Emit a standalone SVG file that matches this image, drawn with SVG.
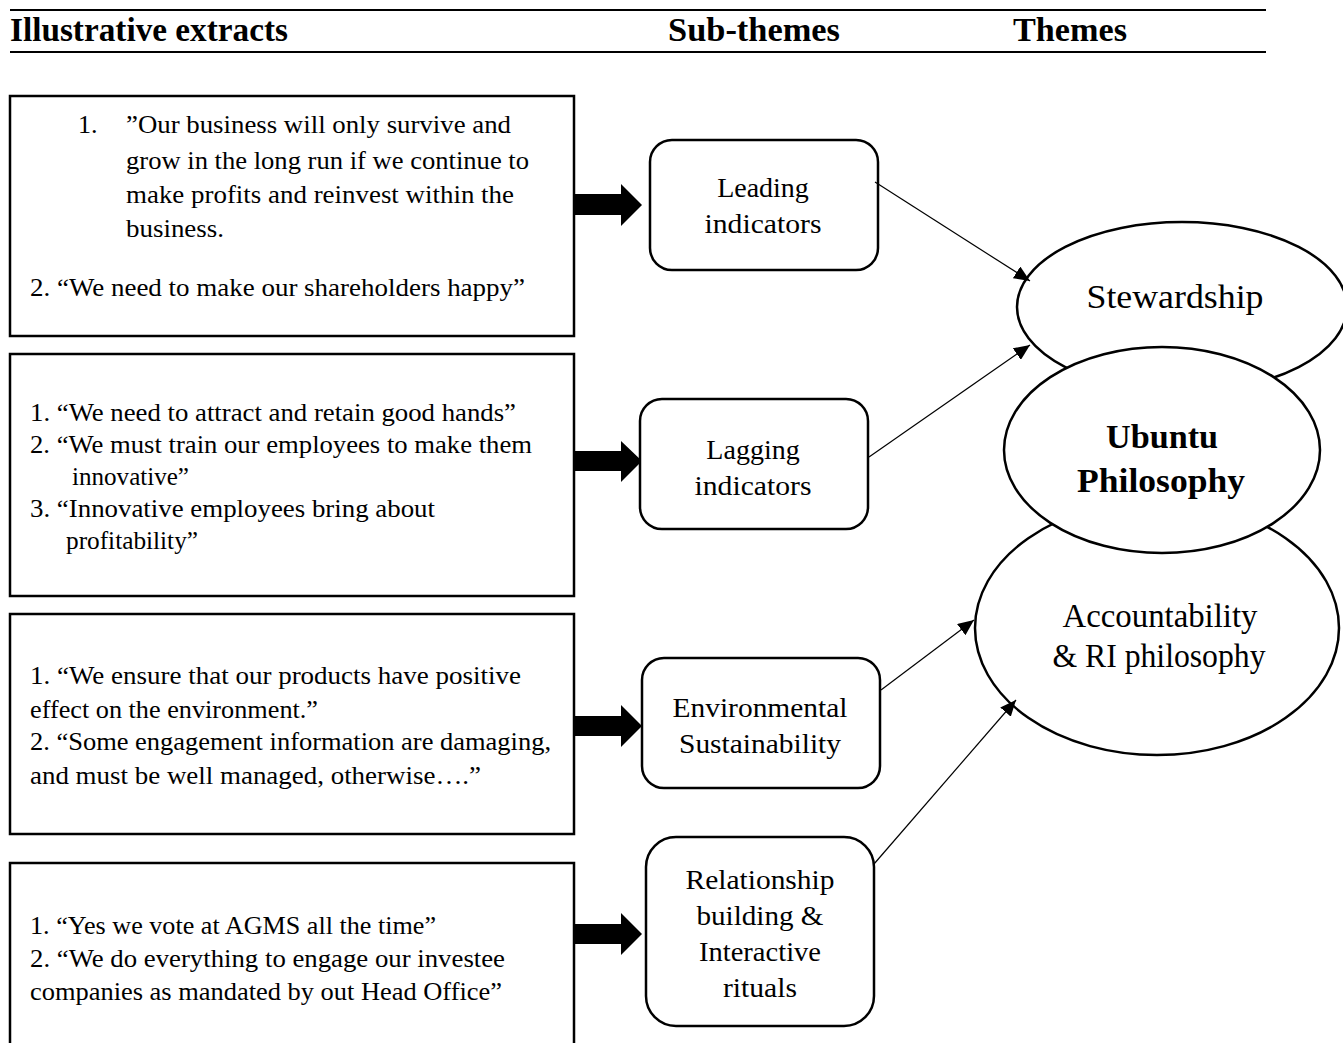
<svg xmlns="http://www.w3.org/2000/svg" width="1343" height="1043" viewBox="0 0 1343 1043">
<style>
.hd{font-family:"Liberation Serif",serif;font-weight:bold;font-size:33px;fill:#000}
.bt{font-family:"Liberation Serif",serif;font-size:26px;fill:#000}
.lb{font-family:"Liberation Serif",serif;font-size:28px;fill:#000;text-anchor:middle}
.el{font-family:"Liberation Serif",serif;font-size:33px;fill:#000;text-anchor:middle}
.elb{font-family:"Liberation Serif",serif;font-size:33px;font-weight:bold;fill:#000;text-anchor:middle}
.box{fill:#fff;stroke:#000;stroke-width:2.5}
.rbox{fill:#fff;stroke:#000;stroke-width:2.5}
.ell{fill:#fff;stroke:#000;stroke-width:2.5}
.fat{fill:#000}
.con{stroke:#000;stroke-width:1.2;fill:none;marker-end:url(#ah)}
.rule{stroke:#000;stroke-width:1.8}
</style>
<defs>
<marker id="ah" markerWidth="16" markerHeight="14" refX="16" refY="7" orient="auto" markerUnits="userSpaceOnUse">
<path d="M0,0 L16,7 L0,14 Z" fill="#000"/>
</marker>
</defs>
<rect width="1343" height="1043" fill="#fff"/>

<g id="header">
<line class="rule" x1="10" y1="10" x2="1266" y2="10"/>
<line class="rule" x1="10" y1="52" x2="1266" y2="52"/>
<text class="hd" x="10" y="41" textLength="278" lengthAdjust="spacingAndGlyphs">Illustrative  extracts</text>
<text class="hd" x="668" y="41" textLength="172" lengthAdjust="spacingAndGlyphs">Sub-themes</text>
<text class="hd" x="1013" y="41" textLength="114" lengthAdjust="spacingAndGlyphs">Themes</text>
</g>

<g id="extract1">
<rect class="box" x="10" y="96" width="564" height="240"/>
<text class="bt" x="78" y="133">1.</text>
<text class="bt" x="126" y="133" textLength="385" lengthAdjust="spacingAndGlyphs">”Our business will only survive and</text>
<text class="bt" x="126" y="169" textLength="403" lengthAdjust="spacingAndGlyphs">grow in the long run if we continue to</text>
<text class="bt" x="126" y="203" textLength="388" lengthAdjust="spacingAndGlyphs">make profits and reinvest within the</text>
<text class="bt" x="126" y="237" textLength="98" lengthAdjust="spacingAndGlyphs">business.</text>
<text class="bt" x="30" y="296" textLength="495" lengthAdjust="spacingAndGlyphs">2. “We need to make our shareholders happy”</text>
</g>

<g id="extract2">
<rect class="box" x="10" y="354" width="564" height="242"/>
<text class="bt" x="30" y="421" textLength="486" lengthAdjust="spacingAndGlyphs">1. “We need to attract and retain good hands”</text>
<text class="bt" x="30" y="453" textLength="502" lengthAdjust="spacingAndGlyphs">2. “We must train our employees to make them</text>
<text class="bt" x="72" y="485" textLength="117" lengthAdjust="spacingAndGlyphs">innovative”</text>
<text class="bt" x="30" y="517" textLength="405" lengthAdjust="spacingAndGlyphs">3. “Innovative employees bring about</text>
<text class="bt" x="66" y="549" textLength="132" lengthAdjust="spacingAndGlyphs">profitability”</text>
</g>

<g id="extract3">
<rect class="box" x="10" y="614" width="564" height="220"/>
<text class="bt" x="30" y="684" textLength="491" lengthAdjust="spacingAndGlyphs">1. “We ensure that our products have positive</text>
<text class="bt" x="30" y="718" textLength="288" lengthAdjust="spacingAndGlyphs">effect on the environment.”</text>
<text class="bt" x="30" y="750" textLength="521" lengthAdjust="spacingAndGlyphs">2. “Some engagement information are damaging,</text>
<text class="bt" x="30" y="784" textLength="451" lengthAdjust="spacingAndGlyphs">and must be well managed, otherwise….”</text>
</g>

<g id="extract4">
<rect class="box" x="10" y="863" width="564" height="200"/>
<text class="bt" x="30" y="934" textLength="406" lengthAdjust="spacingAndGlyphs">1. “Yes we vote at AGMS all the time”</text>
<text class="bt" x="30" y="967" textLength="475" lengthAdjust="spacingAndGlyphs">2. “We do everything to engage our investee</text>
<text class="bt" x="30" y="1000" textLength="472" lengthAdjust="spacingAndGlyphs">companies as mandated by out Head Office”</text>
</g>

<g id="fat-arrows">
<polygon class="fat" points="574,194 621,194 621,184 642,205 621,226 621,215 574,215"/>
<polygon class="fat" points="574,451 621,451 621,441 642,461 621,482 621,471 574,471"/>
<polygon class="fat" points="574,716 621,716 621,705 642,726 621,747 621,736 574,736"/>
<polygon class="fat" points="574,924 621,924 621,913 642,934 621,955 621,944 574,944"/>
</g>

<g id="sub-leading">
<rect class="rbox" x="650" y="140" width="228" height="130" rx="22"/>
<text class="lb" x="763" y="197">Leading</text>
<text class="lb" x="763" y="233" textLength="117" lengthAdjust="spacingAndGlyphs">indicators</text>
</g>

<g id="sub-lagging">
<rect class="rbox" x="640" y="399" width="228" height="130" rx="22"/>
<text class="lb" x="753" y="459">Lagging</text>
<text class="lb" x="753" y="495" textLength="117" lengthAdjust="spacingAndGlyphs">indicators</text>
</g>

<g id="sub-environmental">
<rect class="rbox" x="642" y="658" width="238" height="130" rx="22"/>
<text class="lb" x="760" y="717" textLength="175" lengthAdjust="spacingAndGlyphs">Environmental</text>
<text class="lb" x="760" y="753" textLength="162" lengthAdjust="spacingAndGlyphs">Sustainability</text>
</g>

<g id="sub-relationship">
<rect class="rbox" x="646" y="837" width="228" height="189" rx="30"/>
<text class="lb" x="760" y="889" textLength="149" lengthAdjust="spacingAndGlyphs">Relationship</text>
<text class="lb" x="760" y="925" textLength="127" lengthAdjust="spacingAndGlyphs">building &amp;</text>
<text class="lb" x="760" y="961" textLength="122" lengthAdjust="spacingAndGlyphs">Interactive</text>
<text class="lb" x="760" y="997" textLength="74" lengthAdjust="spacingAndGlyphs">rituals</text>
</g>

<g id="theme-stewardship">
<ellipse class="ell" cx="1182" cy="307" rx="165" ry="85"/>
<text class="el" x="1175" y="308" textLength="177" lengthAdjust="spacingAndGlyphs">Stewardship</text>
</g>

<g id="theme-accountability">
<ellipse class="ell" cx="1157" cy="628" rx="182" ry="127"/>
<text class="el" x="1160" y="627" textLength="195" lengthAdjust="spacingAndGlyphs">Accountability</text>
<text class="el" x="1159" y="667" textLength="213" lengthAdjust="spacingAndGlyphs">&amp; RI philosophy</text>
</g>

<g id="theme-ubuntu">
<ellipse class="ell" cx="1162" cy="450" rx="158" ry="103"/>
<text class="elb" x="1162" y="448" textLength="112" lengthAdjust="spacingAndGlyphs">Ubuntu</text>
<text class="elb" x="1161" y="492" textLength="168" lengthAdjust="spacingAndGlyphs">Philosophy</text>
</g>

<g id="connectors">
<line class="con" x1="875" y1="182" x2="1030" y2="281"/>
<line class="con" x1="869" y1="457" x2="1030" y2="345"/>
<line class="con" x1="881" y1="690" x2="974" y2="620"/>
<line class="con" x1="874" y1="864" x2="1016" y2="700"/>
</g>
</svg>
